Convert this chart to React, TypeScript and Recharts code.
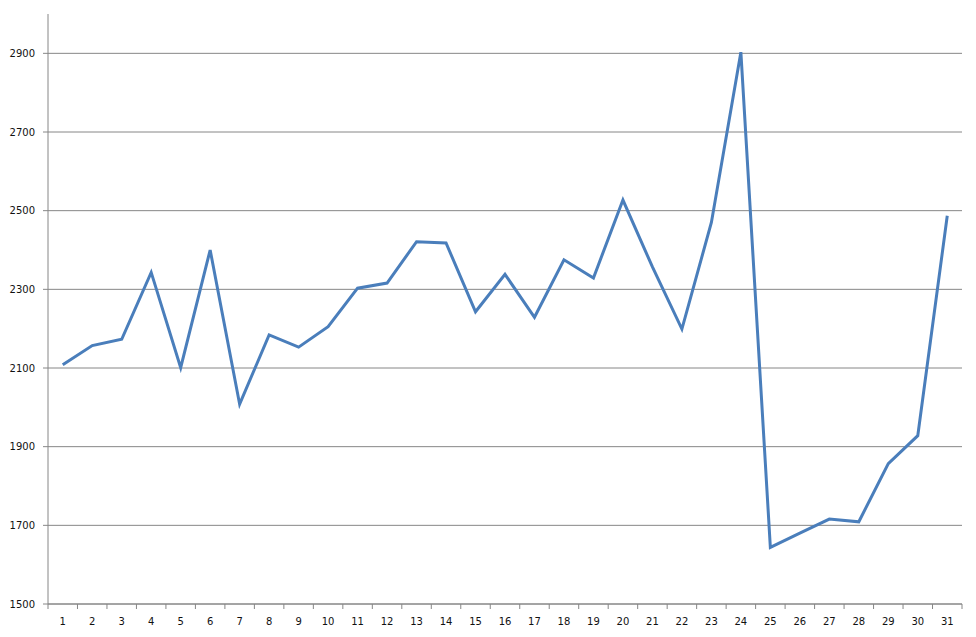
import React from 'react';
import { LineChart, Line, XAxis, YAxis, CartesianGrid } from 'recharts';

// day of month and daily values
const days = [
    '1', '2', '3', '4', '5', '6', '7', '8', '9', '10',
    '11', '12', '13', '14', '15', '16', '17', '18', '19', '20',
    '21', '22', '23', '24', '25', '26', '27', '28', '29', '30', '31',
];
const values = [
    2108, 2157, 2173, 2343, 2101, 2400, 2008, 2184, 2153, 2205,
    2303, 2316, 2421, 2418, 2243, 2338, 2229, 2375, 2329, 2527,
    2357, 2199, 2470, 2903, 1644, 1680, 1716, 1709, 1857, 1928, 2487,
];
const yTicks = [1500, 1700, 1900, 2100, 2300, 2500, 2700, 2900];

const chartData = days.map((d, i) => ({ day: d, value: values[i] }));

const WIDTH = 976;
const HEIGHT = 637;
const MARGIN = { top: 14, right: 14, left: 0, bottom: 0 };
const Y_AXIS_W = 48;
const HALF_BAND = (WIDTH - MARGIN.right - Y_AXIS_W) / days.length / 2;
const AXIS = '#868686';
const FONT = '"DejaVu Sans", Verdana, sans-serif';

// Excel style: tick marks sit between categories, labels sit on them
function DayTick(props: any) {
    const { x, y, payload, index } = props;
    return (
        <g>
            {index === 0 && (
                <line x1={x - HALF_BAND} y1={y} x2={x - HALF_BAND} y2={y + 5} stroke={AXIS} />
            )}
            <line x1={x + HALF_BAND} y1={y} x2={x + HALF_BAND} y2={y + 5} stroke={AXIS} />
            <text x={x} y={y + 21} textAnchor="middle" fontSize={10} fontFamily={FONT} fill="#111">
                {payload.value}
            </text>
        </g>
    );
}

export default function App() {
    return (
        <div style={{ position: 'absolute', left: 0, top: 0, background: '#fff' }}>
            <LineChart width={WIDTH} height={HEIGHT} data={chartData} margin={MARGIN}>
                <CartesianGrid
                    vertical={false}
                    horizontalValues={yTicks}
                    stroke={AXIS}
                    strokeWidth={1}
                />
                <XAxis
                    dataKey="day"
                    interval={0}
                    height={33}
                    stroke={AXIS}
                    tickLine={false}
                    tickSize={0}
                    tickMargin={0}
                    padding={{ left: HALF_BAND, right: HALF_BAND }}
                    tick={<DayTick />}
                />
                <YAxis
                    width={Y_AXIS_W}
                    domain={[1500, 3000]}
                    ticks={yTicks}
                    stroke={AXIS}
                    tickSize={5}
                    tickMargin={8}
                    tick={{ fill: '#111', fontSize: 10, fontFamily: FONT }}
                />
                <Line
                    type="linear"
                    dataKey="value"
                    stroke="#4a7ebb"
                    strokeWidth={3}
                    dot={false}
                    activeDot={false}
                    isAnimationActive={false}
                />
            </LineChart>
        </div>
    );
}
